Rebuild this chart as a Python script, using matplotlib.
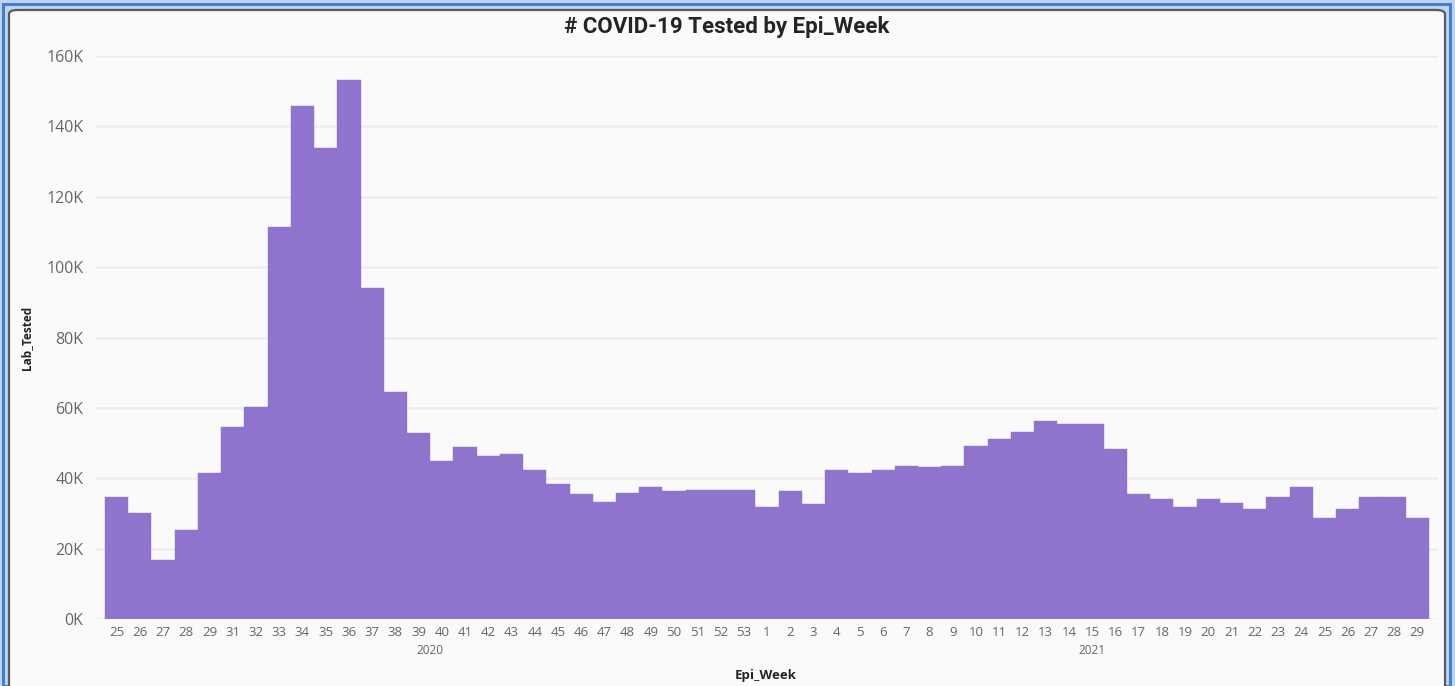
import matplotlib.pyplot as plt
from matplotlib.patches import Rectangle, FancyBboxPatch
import matplotlib.transforms as mtransforms

# Epi weeks (2020: 25-53 without 30, 2021: 1-29)
weeks_2020 = [25, 26, 27, 28, 29, 31, 32, 33, 34, 35, 36, 37, 38, 39, 40, 41,
              42, 43, 44, 45, 46, 47, 48, 49, 50, 51, 52, 53]
weeks_2021 = list(range(1, 30))

# Lab_Tested, thousands
tested_2020 = [34.6, 30.1, 16.8, 25.3, 41.4, 54.7, 60.2, 111.3, 145.8, 134.0,
               153.1, 94.0, 64.5, 53.0, 44.9, 48.8, 46.3, 47.0, 42.3, 38.5,
               35.5, 33.4, 35.9, 37.6, 36.3, 36.8, 36.8, 36.8]
tested_2021 = [31.8, 36.3, 32.6, 42.3, 41.4, 42.3, 43.6, 43.2, 43.6, 49.1,
               51.3, 53.1, 56.4, 55.5, 55.5, 48.3, 35.5, 34.2, 31.8, 34.2,
               32.9, 31.3, 34.6, 37.6, 28.8, 31.3, 34.6, 34.6, 28.8]

years = ["2020", "2021"]
yticks = [0, 20, 40, 60, 80, 100, 120, 140, 160]

W, H = 1455, 686
BAR = "#9073CC"
GREY = "#666666"
DARK = "#252423"

plt.rcParams['font.family'] = ['Open Sans', 'DejaVu Sans']

fig = plt.figure(figsize=(W / 100, H / 100), dpi=100)
fig.patch.set_facecolor("#BBD5EE")


def fx(x):
    return x / W


def fy(y):
    return 1 - y / H


# window frame: blue edge lines + rounded card (kept behind the axes)
fig.add_artist(Rectangle((fx(3), fy(686)), fx(1450 - 3), fy(4) - fy(686),
                         transform=fig.transFigure, facecolor="none",
                         edgecolor="#4A7CCB", linewidth=2.2, zorder=-10))
fig.add_artist(FancyBboxPatch((fx(9), fy(700)), fx(1445 - 9), fy(10) - fy(700),
                              boxstyle="round,pad=0,rounding_size=0.006",
                              transform=fig.transFigure, facecolor="#FAFAFA",
                              edgecolor="#5A5A5A", linewidth=1.6, zorder=-9))

ax = fig.add_axes([fx(96), fy(619.2), fx(1438 - 96), fy(56) - fy(619.2)])
ax.set_facecolor("none")
ax.set_zorder(5)

labels = [str(w) for w in weeks_2020] + [str(w) for w in weeks_2021]
values = [v * 1000 for v in tested_2020 + tested_2021]
xs = list(range(len(values)))

ax.bar(xs, values, width=1.0, color=BAR, edgecolor=BAR,
       linewidth=0.3, zorder=2)

ax.set_xlim(-0.887, len(values) - 1 + 0.887)
ax.set_ylim(0, 160000)
ax.set_yticks([t * 1000 for t in yticks])
ax.set_yticklabels([f"{t}K" for t in yticks])
ax.set_xticks(xs)
ax.set_xticklabels(labels)
ax.tick_params(axis="y", length=0, pad=9, labelsize=11.5, labelcolor=GREY)
ax.tick_params(axis="x", length=0, pad=5, labelsize=9.5, labelcolor=GREY)
ax.grid(axis="y", color="#EEEEEE", linewidth=1.8, zorder=0)
ax.set_axisbelow(True)
for s in ax.spines.values():
    s.set_visible(False)

# year group labels under the week ticks
n20 = len(weeks_2020)
centers = [(n20 - 1) / 2, n20 + (len(weeks_2021) - 1) / 2]
trans = mtransforms.blended_transform_factory(ax.transData, ax.transAxes)
for c, yr in zip(centers, years):
    ax.annotate(yr, xy=(c, 0), xycoords=trans, xytext=(0, -22.5),
                textcoords="offset points", ha="center", va="center",
                fontsize=8.5, color=GREY, annotation_clip=False)

fig.text(fx(727), fy(27), "# COVID-19 Tested by Epi_Week", ha="center",
         va="center", fontsize=16, fontweight="bold", color=DARK,
         family=["Roboto", "DejaVu Sans"])
fig.text(fx(27), fy(338), "Lab_Tested", ha="center", va="center",
         rotation=90, fontsize=8.5, fontweight="bold", color=DARK)
fig.text(fx(766), fy(676), "Epi_Week", ha="center", va="center",
         fontsize=9.5, fontweight="bold", color=DARK)

fig.savefig("out.png", dpi=100)
